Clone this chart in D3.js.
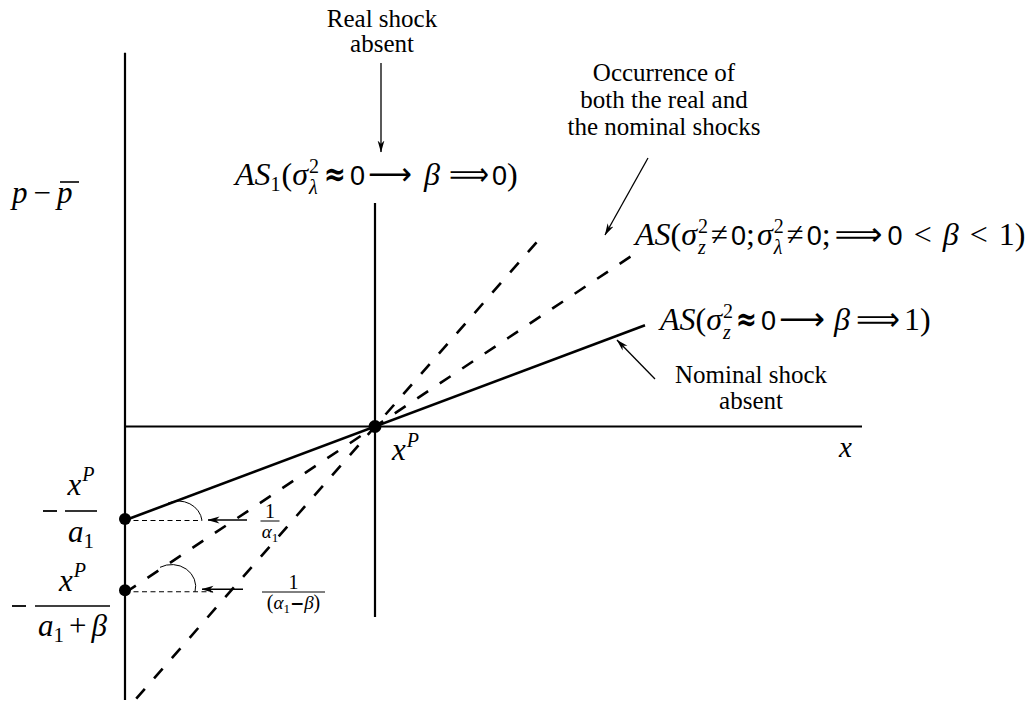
<!DOCTYPE html>
<html>
<head>
<meta charset="utf-8">
<script src="https://cdn.jsdelivr.net/npm/d3@7"></script>
<style>
  html, body { margin: 0; padding: 0; background: #fff; }
  svg { display: block; }
</style>
</head>
<body>
<svg id="chart" width="1028" height="702"></svg>
<script>
// Aggregate supply schedules around the natural output level x^P.
const xP = 1;
const curveKinds = ["nominal shock absent", "both shocks", "real shock absent"];
const curveSlopes = [0.375, 0.665, 1.14];   // 1/α1, intermediate, 1/(α1 − β)
const curveFrom = [0, 0, 0.045];
const curveTo = [2.08, 2.03, 1.665];
// Price-axis intercepts marked with dots: −x^P/a1 and −x^P/(a1+β)
const interceptSlopes = [0.37, 0.655];
// Axis extents
const xAxisExtent = [0, 2.948];
const yAxisExtent = [-1.094, 1.495];
const xPLineExtent = [-0.762, 0.894];

const svg = d3.select("#chart");
const x = d3.scaleLinear().domain([0, 1]).range([125, 375]);
const y = d3.scaleLinear().domain([0, 1]).range([426.5, 176.5]);

const defs = svg.append("defs");
defs.append("marker")
  .attr("id", "head")
  .attr("viewBox", "0 0 12 8")
  .attr("refX", 11.5).attr("refY", 4)
  .attr("markerWidth", 12).attr("markerHeight", 8)
  .attr("markerUnits", "userSpaceOnUse")
  .attr("orient", "auto")
  .append("path").attr("d", "M0,0.6 L12,4 L0,7.4 L3.5,4 Z").attr("fill", "#000");

// Axes
const axes = svg.append("g").attr("stroke", "#000").attr("stroke-width", 2.2);
axes.append("line")
  .attr("x1", x(0)).attr("x2", x(0))
  .attr("y1", y(yAxisExtent[1])).attr("y2", y(yAxisExtent[0]));
axes.append("line")
  .attr("x1", x(xAxisExtent[0])).attr("x2", x(xAxisExtent[1]))
  .attr("y1", y(0)).attr("y2", y(0));
axes.append("line")
  .attr("x1", x(xP)).attr("x2", x(xP))
  .attr("y1", y(xPLineExtent[1])).attr("y2", y(xPLineExtent[0]));

// AS curves: y = slope · (x − x^P)
const line = d3.line().x(d => x(d[0])).y(d => y(d[1]));
curveKinds.forEach((k, i) => {
  const s = curveSlopes[i];
  const pts = [curveFrom[i], curveTo[i]].map(v => [v, s * (v - xP)]);
  svg.append("path")
    .attr("class", "as-curve")
    .attr("d", line(pts))
    .attr("fill", "none")
    .attr("stroke", "#000")
    .attr("stroke-width", 2.6)
    .attr("stroke-dasharray", i === 0 ? null : "13,14");
});

// Horizontal guides, angle arcs and arrows at the intercepts
const guideLen = [77, 88];
const arcStart = [43, 35];
const arcEnd = [77, 70];
const arrowSpan = [[122, 83], [118, 77]];
interceptSlopes.forEach((s, i) => {
  const y0 = y(-s * xP);
  svg.append("line")
    .attr("x1", x(0)).attr("x2", x(0) + guideLen[i])
    .attr("y1", y0 + 1.5).attr("y2", y0 + 1.5)
    .attr("stroke", "#000").attr("stroke-width", 1)
    .attr("stroke-dasharray", "5,3.5");
  const sx = x(0) + arcStart[i];
  const sy = y0 - arcStart[i] * s;
  const ex = x(0) + arcEnd[i];
  svg.append("path")
    .attr("d", `M${sx},${sy} A24,22 0 0 1 ${ex},${y0 + 1.5}`)
    .attr("fill", "none").attr("stroke", "#000").attr("stroke-width", 1);
  svg.append("line")
    .attr("x1", x(0) + arrowSpan[i][0]).attr("x2", x(0) + arrowSpan[i][1])
    .attr("y1", y0 + (i === 0 ? 1 : -1)).attr("y2", y0 + (i === 0 ? 1 : -1))
    .attr("stroke", "#000").attr("stroke-width", 1.4)
    .attr("marker-end", "url(#head)");
});

// Dots: intercepts and x^P
interceptSlopes.forEach(s => {
  svg.append("circle").attr("cx", x(0)).attr("cy", y(-s * xP)).attr("r", 6).attr("fill", "#000");
});
svg.append("circle").attr("cx", x(xP)).attr("cy", y(0)).attr("r", 6.5).attr("fill", "#000");

// Annotation arrows
const arrows = [
  [[381, 63], [381, 152]],
  [[648, 158], [605, 235]],
  [[655, 379], [617, 340]]
];
arrows.forEach(a => {
  svg.append("line")
    .attr("x1", a[0][0]).attr("y1", a[0][1])
    .attr("x2", a[1][0]).attr("y2", a[1][1])
    .attr("stroke", "#000").attr("stroke-width", 1.3)
    .attr("marker-end", "url(#head)");
});

// ---------- text ----------
const SERIF = "Liberation Serif, DejaVu Serif, serif";
const SANS = "DejaVu Sans, sans-serif";
const fonts = {
  it: { family: SERIF, style: "italic", weight: "normal" },
  rm: { family: SERIF, style: "normal", weight: "normal" },
  zero: { family: "Liberation Sans, sans-serif", style: "normal", weight: "normal" },
  sym: { family: SANS, style: "normal", weight: "normal" },
  bsym: { family: SANS, style: "normal", weight: "bold" }
};

// Lays out a row of glyph runs left to right; `back` stacks a run over the previous one,
// `w` stretches a run horizontally to a fixed width.
function mathRow(px, baseline, pieces, anchor) {
  const g = svg.append("g");
  let cx = 0, prevStart = 0, prevW = 0;
  pieces.forEach(p => {
    const f = fonts[p.f || "it"];
    const startX = p.back ? prevStart : cx + (p.pre || 0);
    const t = g.append("text")
      .attr("x", 0).attr("y", 0)
      .attr("transform", `translate(${startX},${p.dy || 0})`)
      .style("font-family", f.family).style("font-style", f.style)
      .style("font-weight", f.weight).style("font-size", p.s + "px")
      .attr("fill", "#000")
      .text(p.t);
    let w = t.node().getComputedTextLength();
    if (p.w) {
      t.attr("transform", `translate(${startX},${p.dy || 0}) scale(${p.w / w},1)`);
      w = p.w;
    }
    if (p.back) {
      cx = prevStart + Math.max(prevW, w) + (p.post || 0);
    } else {
      prevStart = startX; prevW = w;
      cx = startX + w + (p.post || 0);
    }
  });
  const shift = anchor === "middle" ? -cx / 2 : anchor === "end" ? -cx : 0;
  g.attr("transform", `translate(${px + shift},${baseline})`);
  return cx;
}

function plainLines(cx, baselines, lines, size) {
  lines.forEach((l, i) => {
    svg.append("text")
      .attr("x", cx).attr("y", baselines[i])
      .attr("text-anchor", "middle")
      .style("font-family", SERIF).style("font-size", size + "px")
      .attr("fill", "#000").text(l);
  });
}

plainLines(382, [27, 52], ["Real shock", "absent"], 25);
plainLines(664, [81, 108, 135], ["Occurrence of", "both the real and", "the nominal shocks"], 25);
plainLines(751, [383, 409], ["Nominal shock", "absent"], 25);

const F = 32, S = 20;
// AS1(σ²_λ ≈ 0 ⟶ β ⟹ 0)
mathRow(235, 185, [
  { t: "AS", s: F },
  { t: "1", f: "rm", s: S, dy: 6 },
  { t: "(", f: "rm", s: F, pre: 1 },
  { t: "σ", s: F },
  { t: "2", f: "rm", s: S, dy: -12, pre: 1 },
  { t: "λ", s: S, dy: 9, back: true },
  { t: "≈", f: "bsym", s: F, w: 22, pre: 5 },
  { t: "0", f: "zero", s: F - 5, pre: 4 },
  { t: "⟶", f: "sym", s: F, w: 44, pre: 3 },
  { t: "β", s: F, pre: 12 },
  { t: "⟹", f: "sym", s: F, w: 40, pre: 9 },
  { t: "0", f: "zero", s: F - 5, pre: 3 },
  { t: ")", f: "rm", s: F }
]);

// AS(σ²_z ≠ 0; σ²_λ ≠ 0; ⟹ 0 < β < 1)
mathRow(635, 245, [
  { t: "AS", s: F },
  { t: "(", f: "rm", s: F },
  { t: "σ", s: F },
  { t: "2", f: "rm", s: S, dy: -12, pre: 1 },
  { t: "z", s: S, dy: 9, back: true },
  { t: "≠", f: "rm", s: F, w: 17, pre: 3 },
  { t: "0", f: "zero", s: F - 5, pre: 3 },
  { t: ";", f: "rm", s: F },
  { t: "σ", s: F, pre: 2 },
  { t: "2", f: "rm", s: S, dy: -12, pre: 1 },
  { t: "λ", s: S, dy: 9, back: true },
  { t: "≠", f: "rm", s: F, w: 17, pre: 3 },
  { t: "0", f: "zero", s: F - 5, pre: 3 },
  { t: ";", f: "rm", s: F },
  { t: "⟹", f: "sym", s: F, w: 48, pre: 4 },
  { t: "0", f: "zero", s: F - 5, pre: 5 },
  { t: "<", f: "rm", s: F, pre: 11 },
  { t: "β", s: F, pre: 11 },
  { t: "<", f: "rm", s: F, pre: 11 },
  { t: "1", f: "rm", s: F, pre: 11 },
  { t: ")", f: "rm", s: F }
]);

// AS(σ²_z ≈ 0 ⟶ β ⟹ 1)
mathRow(660, 330, [
  { t: "AS", s: F },
  { t: "(", f: "rm", s: F },
  { t: "σ", s: F },
  { t: "2", f: "rm", s: S, dy: -12, pre: 1 },
  { t: "z", s: S, dy: 9, back: true },
  { t: "≈", f: "bsym", s: F, w: 21, pre: 3 },
  { t: "0", f: "zero", s: F - 5, pre: 4 },
  { t: "⟶", f: "sym", s: F, w: 46, pre: 3 },
  { t: "β", s: F, pre: 9 },
  { t: "⟹", f: "sym", s: F, w: 44, pre: 6 },
  { t: "1", f: "rm", s: F, pre: 4 },
  { t: ")", f: "rm", s: F }
]);

// Vertical axis label p − p̄
mathRow(12, 203, [
  { t: "p", s: 31, post: 6 },
  { t: "−", f: "rm", s: 31, post: 6 },
  { t: "p", s: 31 }
]);
svg.append("line").attr("x1", 60).attr("x2", 79).attr("y1", 182).attr("y2", 182)
  .attr("stroke", "#000").attr("stroke-width", 1.6);

// x^P at the intersection, x at the end of the horizontal axis
mathRow(392, 460, [
  { t: "x", s: 31 },
  { t: "P", s: 20, dy: -13, pre: 1 }
]);
mathRow(839, 457, [{ t: "x", s: 29 }]);

// −x^P / a1 and −x^P / (a1 + β)
function fractionLabel(minusX, minusY, barX1, barX2, numPieces, numBase, denPieces, denBase) {
  svg.append("line").attr("x1", minusX).attr("x2", minusX + 14)
    .attr("y1", minusY).attr("y2", minusY).attr("stroke", "#000").attr("stroke-width", 1.8);
  svg.append("line").attr("x1", barX1).attr("x2", barX2)
    .attr("y1", minusY).attr("y2", minusY).attr("stroke", "#000").attr("stroke-width", 1.6);
  mathRow((barX1 + barX2) / 2, numBase, numPieces, "middle");
  mathRow((barX1 + barX2) / 2, denBase, denPieces, "middle");
}
fractionLabel(43, 511, 65, 97,
  [{ t: "x", s: 31 }, { t: "P", s: 20, dy: -14, pre: 1 }], 495,
  [{ t: "a", s: 31 }, { t: "1", f: "rm", s: 21, dy: 6 }], 542);
fractionLabel(12, 606, 35, 110,
  [{ t: "x", s: 31 }, { t: "P", s: 20, dy: -14, pre: 1 }], 591,
  [{ t: "a", s: 31 }, { t: "1", f: "rm", s: 21, dy: 6, post: 5 }, { t: "+", f: "rm", s: 31, post: 5 }, { t: "β", s: 31 }], 636);

// Slope fractions 1/α1 and 1/(α1 − β)
function slopeFrac(cx, barY, barW, num, den) {
  svg.append("line").attr("x1", cx - barW / 2).attr("x2", cx + barW / 2)
    .attr("y1", barY).attr("y2", barY).attr("stroke", "#000").attr("stroke-width", 1);
  mathRow(cx, barY - 3, num, "middle");
  mathRow(cx, barY + 17, den, "middle");
}
slopeFrac(270, 521, 19,
  [{ t: "1", f: "rm", s: 20 }],
  [{ t: "α", s: 19 }, { t: "1", f: "rm", s: 13, dy: 4 }]);
slopeFrac(293.5, 592, 63,
  [{ t: "1", f: "rm", s: 20 }],
  [{ t: "(", f: "rm", s: 20 }, { t: "α", s: 19 }, { t: "1", f: "rm", s: 13, dy: 4 },
   { t: "−", f: "bsym", s: 17 }, { t: "β", s: 19 }, { t: ")", f: "rm", s: 20 }]);
</script>
</body>
</html>
